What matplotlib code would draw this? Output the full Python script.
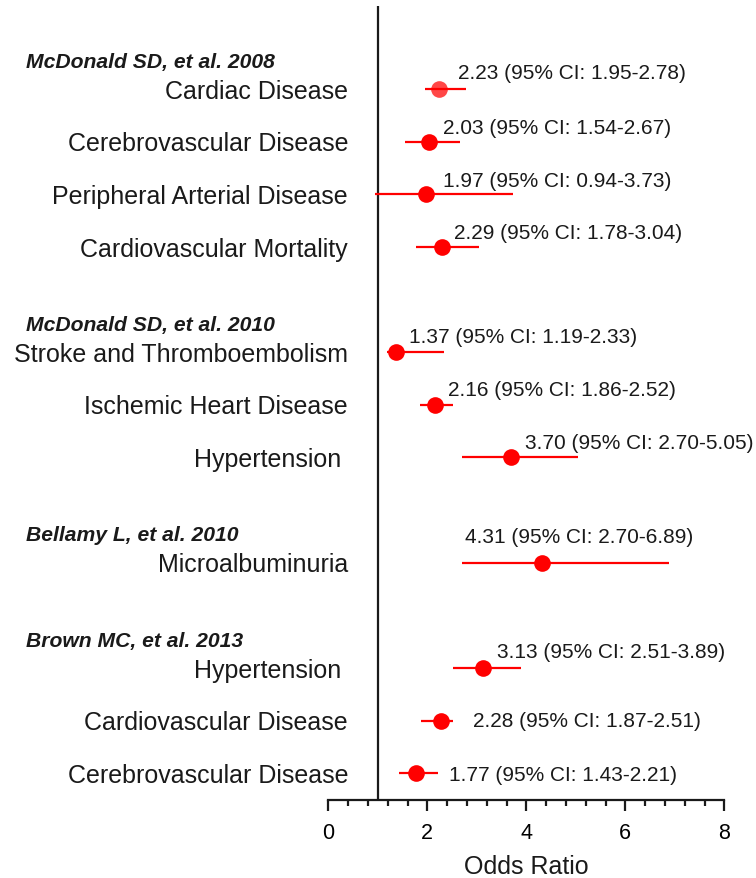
import matplotlib
matplotlib.use("Agg")
import matplotlib.pyplot as plt
import matplotlib.transforms as mtransforms
from matplotlib.ticker import MultipleLocator

plt.rcParams['font.family'] = ['Liberation Sans', 'DejaVu Sans']

# ---- data ----
studies = ["McDonald SD, et al. 2008", "McDonald SD, et al. 2010",
           "Bellamy L, et al. 2010", "Brown MC, et al. 2013"]
study_sizes = [4, 3, 1, 3]
labels = ["Cardiac Disease", "Cerebrovascular Disease", "Peripheral Arterial Disease",
          "Cardiovascular Mortality", "Stroke and Thromboembolism", "Ischemic Heart Disease",
          "Hypertension ", "Microalbuminuria", "Hypertension ", "Cardiovascular Disease",
          "Cerebrovascular Disease"]
odds = [2.23, 2.03, 1.97, 2.29, 1.37, 2.16, 3.70, 4.31, 3.13, 2.28, 1.77]
ci_low = [1.95, 1.54, 0.94, 1.78, 1.19, 1.86, 2.70, 2.70, 2.51, 1.87, 1.43]
ci_high = [2.78, 2.67, 3.73, 3.04, 2.33, 2.52, 5.05, 6.89, 3.89, 2.51, 2.21]

# ---- layout (annotation placement) ----
ann_x = [2.63, 2.32, 2.31, 2.53, 1.64, 2.42, 3.97, 2.76, 3.40, 2.92, 2.44]
ann_dy = [0.32, 0.27, 0.27, 0.27, 0.29, 0.29, 0.29, 0.49, 0.32, 0.0, -0.02]

# row positions: one empty slot between groups
rows = []
group_first = []
pos = 0
for n in study_sizes:
    group_first.append(pos)
    rows.extend(range(pos, pos + n))
    pos += n + 1

fig = plt.figure(figsize=(7.56, 8.79), dpi=100)
ax = fig.add_axes([328.3 / 756, 1 - 801 / 879, (724.3 - 328.3) / 756, (801 - 7) / 879])

red = '#ff0000'
for i, y in enumerate(rows):
    ax.plot([ci_low[i], ci_high[i]], [y, y], color=red, lw=1.6, solid_capstyle='butt', zorder=2)
    alpha = 0.72 if i == 0 else 1.0
    ax.plot(odds[i], y, 'o', color=red, ms=12, mec='none', alpha=alpha, zorder=3)
    txt = f"{odds[i]:.2f} (95% CI: {ci_low[i]:.2f}-{ci_high[i]:.2f})"
    ax.text(ann_x[i], y - ann_dy[i], txt, fontsize=15, ha='left', va='center', color='#1a1a1a')
    ax.text(0.4, y + 0.03, labels[i], fontsize=18, ha='right', va='center', color='#1a1a1a')

hdr_tr = mtransforms.blended_transform_factory(fig.transFigure, ax.transData)
for s, g in zip(studies, group_first):
    ax.text(26 / 756, g - 0.53, s, transform=hdr_tr, fontsize=15.2, fontweight='bold',
            fontstyle='italic', ha='left', va='center', color='#1a1a1a')

ax.axvline(1, color='#1a1a1a', lw=1.6, zorder=1)

ax.set_xlim(0, 8)
ax.set_ylim(13.51, -1.58)
for sp in ['top', 'right', 'left']:
    ax.spines[sp].set_visible(False)
ax.spines['bottom'].set_linewidth(1.6)
ax.spines['bottom'].set_color('#1a1a1a')
ax.set_yticks([])
ax.xaxis.set_major_locator(MultipleLocator(2))
ax.xaxis.set_minor_locator(MultipleLocator(0.4))
ax.tick_params(axis='x', which='major', length=8, width=1.6, labelsize=15.5, pad=8, color='#1a1a1a')
ax.tick_params(axis='x', which='minor', length=4.5, width=1.6, color='#1a1a1a')
ax.set_xlabel("Odds Ratio", fontsize=18, labelpad=8, color='#1a1a1a')

fig.savefig("out.png", dpi=100)
